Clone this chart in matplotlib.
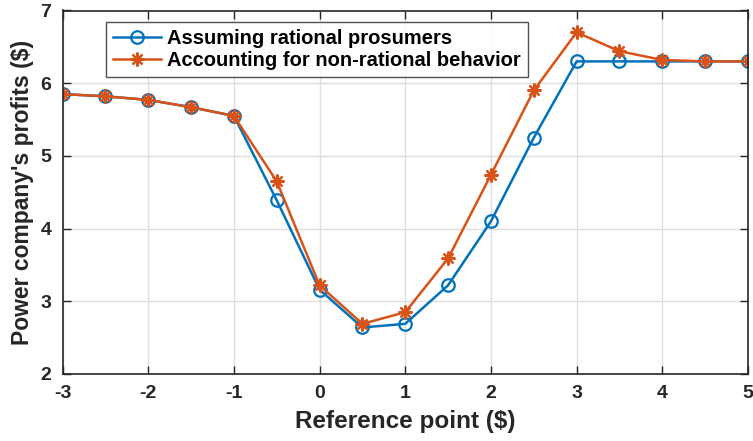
import matplotlib
matplotlib.use("Agg")
import matplotlib.pyplot as plt

# Reference point ($)
ref_point = [-3, -2.5, -2, -1.5, -1, -0.5, 0, 0.5, 1, 1.5, 2, 2.5, 3, 3.5, 4, 4.5, 5]
# Power company's profits ($)
profit_rational = [5.85, 5.82, 5.77, 5.67, 5.55, 4.39, 3.16, 2.64, 2.69, 3.22, 4.10, 5.25,
                   6.30, 6.30, 6.30, 6.30, 6.30]
profit_nonrational = [5.85, 5.82, 5.77, 5.67, 5.55, 4.65, 3.22, 2.69, 2.85, 3.59, 4.74, 5.90,
                      6.70, 6.44, 6.32, 6.30, 6.30]

series_labels = ["Assuming rational prosumers", "Accounting for non-rational behavior"]
xticks = [-3, -2, -1, 0, 1, 2, 3, 4, 5]
yticks = [2, 3, 4, 5, 6, 7]

blue = "#0072BD"
orange = "#D95319"

plt.rcParams["font.family"] = ["Liberation Sans", "DejaVu Sans"]
plt.rcParams["font.weight"] = "bold"
plt.rcParams["axes.unicode_minus"] = False

fig = plt.figure(figsize=(7.53, 4.41), dpi=100)
ax = fig.add_axes([62.5 / 753, 1 - 374 / 441, (748 - 62.5) / 753, (374 - 10.5) / 441])

ax.plot(ref_point, profit_rational, color=blue, lw=1.8, marker="o", ms=9,
        mfc="none", mec=blue, mew=1.6, label=series_labels[0])
ax.plot(ref_point, profit_nonrational, color=orange, lw=1.8, marker=(8, 2, 0), ms=10,
        mec=orange, mew=1.6, label=series_labels[1])

ax.set_xlim(-3, 5)
ax.set_ylim(2, 7)
ax.set_xticks(xticks)
ax.set_yticks(yticks)
ax.grid(True, color="#dedede", lw=1.0)
ax.set_axisbelow(True)

for s in ax.spines.values():
    s.set_color("#262626")
    s.set_linewidth(1.2)
ax.tick_params(direction="in", top=True, right=True, length=6, width=1.0,
               colors="#262626", labelsize=14, pad=8)
for lbl in ax.get_xticklabels() + ax.get_yticklabels():
    lbl.set_fontweight("bold")

ax.set_xlabel("Reference point ($)", fontsize=17.5, fontweight="bold", color="#262626", labelpad=6)
ax.set_ylabel("Power company's profits ($)", fontsize=16.5, fontweight="bold", color="#262626", labelpad=5)

leg = ax.legend(loc="upper left", bbox_to_anchor=(0.0635, 0.968),
                prop={"weight": "bold", "size": 14.5}, frameon=True, fancybox=False,
                edgecolor="#262626", borderpad=0.35, labelspacing=0.15,
                handlelength=2.4, handletextpad=0.3, borderaxespad=0)
leg.get_frame().set_linewidth(1.0)

fig.savefig("out.png", dpi=100)
